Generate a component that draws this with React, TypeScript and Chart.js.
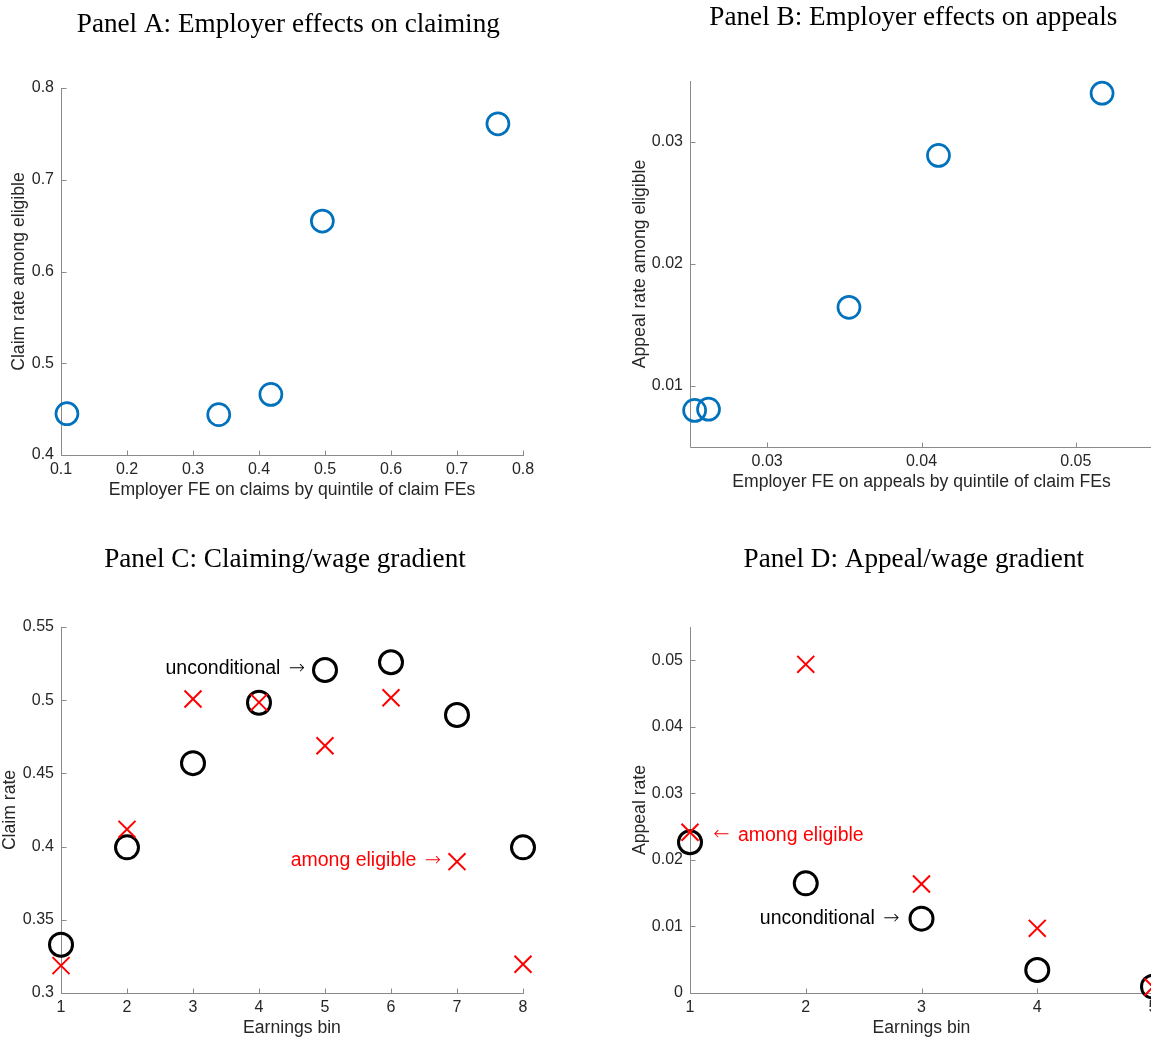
import React, { useEffect, useRef } from "react";
import { Chart, registerables } from "chart.js";

Chart.register(...registerables);

// ---------- Data ----------
// Panel A
const panelAX = [0.109, 0.339, 0.418, 0.496, 0.762];
const panelAY = [0.445, 0.444, 0.466, 0.655, 0.761];
const panelAXTicks = [0.1, 0.2, 0.3, 0.4, 0.5, 0.6, 0.7, 0.8];
const panelAYTicks = [0.4, 0.5, 0.6, 0.7, 0.8];

// Panel B
const panelBX = [0.0253, 0.0262, 0.0353, 0.0411, 0.0517];
const panelBY = [0.0080, 0.0081, 0.01645, 0.0289, 0.0340];
const panelBXTicks = [0.03, 0.04, 0.05];
const panelBYTicks = [0.01, 0.02, 0.03];

// Panel C
const earningsBinsC = [1, 2, 3, 4, 5, 6, 7, 8];
const claimUnconditional = [0.333, 0.3995, 0.457, 0.4983, 0.5206, 0.5259, 0.4899, 0.3995];
const claimAmongEligible = [0.3187, 0.4118, 0.5008, 0.4985, 0.4689, 0.5017, 0.3897, 0.3196];
const panelCXTicks = [1, 2, 3, 4, 5, 6, 7, 8];
const panelCYTicks = [0.3, 0.35, 0.4, 0.45, 0.5, 0.55];

// Panel D
const earningsBinsD = [1, 2, 3, 4, 5];
const appealUnconditional = [0.02265, 0.01648, 0.01117, 0.00346, 0.00095];
const appealAmongEligible = [0.02415, 0.04939, 0.01638, 0.00972, 0.0009];
const panelDXTicks = [1, 2, 3, 4, 5];
const panelDYTicks = [0, 0.01, 0.02, 0.03, 0.04, 0.05];

// ---------- Styles ----------
const SANS = '"Liberation Sans", Arial, Helvetica, sans-serif';
const ARROW_FONT = '"DejaVu Sans", sans-serif';
const SERIF = '"Liberation Serif", "Times New Roman", serif';
const TEXT = "#262626";
const AXIS = "#8a8a8a";
const BLUE = "#0072BD";
const RED = "#FF0000";

const fmt = (v: number) => String(parseFloat(Number(v).toFixed(5)));

const framePlugin = {
  id: "matlabFrame",
  beforeDatasetsDraw(chart: any) {
    const { ctx, chartArea } = chart;
    const xs = chart.scales.x;
    const ys = chart.scales.y;
    const L = Math.round(chartArea.left) + 0.5;
    const B = Math.round(chartArea.bottom) + 0.5;
    ctx.save();
    ctx.strokeStyle = AXIS;
    ctx.lineWidth = 1;
    ctx.beginPath();
    ctx.moveTo(L, Math.round(chartArea.top));
    ctx.lineTo(L, B);
    ctx.lineTo(Math.round(chartArea.right) + 1, B);
    const tl = 5;
    xs.ticks.forEach((t: any) => {
      const px = Math.round(xs.getPixelForValue(t.value)) + 0.5;
      ctx.moveTo(px, B);
      ctx.lineTo(px, B - tl);
    });
    ys.ticks.forEach((t: any) => {
      const py = Math.round(ys.getPixelForValue(t.value)) + 0.5;
      ctx.moveTo(L, py);
      ctx.lineTo(L + tl, py);
    });
    ctx.stroke();
    ctx.restore();
  },
};

// A note is a list of text pieces; arrow glyphs use a font with long arrows.
const drawNote = (ctx: any, n: any, px: number, py: number) => {
  const pieces = n.pieces.map((p: string) => {
    const isArrow = p === "\u2192" || p === "\u2190";
    return { text: p, arrow: isArrow, font: isArrow ? `300 19.5px ${ARROW_FONT}` : `19.5px ${SANS}` };
  });
  const gap = 3;
  let total = 0;
  pieces.forEach((p: any) => {
    ctx.font = p.font;
    p.w = ctx.measureText(p.text).width + (p.arrow ? gap : 0);
    total += p.w;
  });
  let x = n.align === "right" ? px - total : px;
  ctx.fillStyle = n.color;
  ctx.textAlign = "left";
  ctx.textBaseline = "middle";
  pieces.forEach((p: any, i: number) => {
    ctx.font = p.font;
    const shift = p.arrow && i > 0 ? gap : 0;
    ctx.fillText(p.text, x + shift, py);
    x += p.w;
  });
};

const textPlugin = {
  id: "panelText",
  afterDraw(chart: any) {
    const opts = chart.options.plugins.panelText || {};
    const { ctx } = chart;
    ctx.save();
    if (opts.title) {
      ctx.font = `27.2px ${SERIF}`;
      ctx.fillStyle = "#000";
      ctx.textAlign = "center";
      ctx.textBaseline = "alphabetic";
      ctx.fillText(opts.title.text, opts.title.x, opts.title.y);
    }
    (opts.notes || []).forEach((n: any) => {
      const px = chart.scales.x.getPixelForValue(n.x);
      const py = chart.scales.y.getPixelForValue(n.y);
      drawNote(ctx, n, px, py);
    });
    ctx.restore();
  },
};

type Spec = {
  left: number;
  top: number;
  width: number;
  height: number;
  xMin: number;
  xMax: number;
  yMin: number;
  yMax: number;
  xTicks: number[];
  yTicks: number[];
  xTitle: string;
  yTitle: string;
  yAxisWidth: number;
  yTitlePad: number;
  padTop: number;
  padRight: number;
  padBottom: number;
  datasets: any[];
  title: { text: string; x: number; y: number };
  notes: any[];
};

const pts = (xs: number[], ys: number[]) => xs.map((x, i) => ({ x, y: ys[i] }));

const circles = (xs: number[], ys: number[], color: string, r: number, w: number, order: number) => ({
  type: "scatter",
  data: pts(xs, ys),
  pointStyle: "circle",
  pointRadius: r,
  pointHoverRadius: r,
  borderColor: color,
  pointBorderColor: color,
  borderWidth: w,
  pointBorderWidth: w,
  backgroundColor: "rgba(0,0,0,0)",
  pointBackgroundColor: "rgba(0,0,0,0)",
  showLine: false,
  clip: false,
  order,
});

const crosses = (xs: number[], ys: number[], color: string, r: number, w: number, order: number) => ({
  type: "scatter",
  data: pts(xs, ys),
  pointStyle: "crossRot",
  pointRadius: r,
  pointHoverRadius: r,
  borderColor: color,
  pointBorderColor: color,
  borderWidth: w,
  pointBorderWidth: w,
  backgroundColor: color,
  showLine: false,
  clip: false,
  order,
});

function buildConfig(s: Spec): any {
  const tickFont = { family: SANS, size: 16 };
  const titleFont = { family: SANS, size: 17.6 };
  return {
    type: "scatter",
    data: { datasets: s.datasets },
    plugins: [framePlugin, textPlugin],
    options: {
      responsive: false,
      animation: false,
      events: [],
      layout: { padding: { left: 0, top: s.padTop, right: s.padRight, bottom: s.padBottom } },
      plugins: {
        legend: { display: false },
        tooltip: { enabled: false },
        panelText: { title: s.title, notes: s.notes },
      },
      scales: {
        x: {
          type: "linear",
          position: "bottom",
          min: s.xMin,
          max: s.xMax,
          grid: { display: false, drawTicks: false },
          border: { display: false },
          ticks: {
            padding: 5,
            font: tickFont,
            color: TEXT,
            autoSkip: false,
            maxRotation: 0,
            minRotation: 0,
            includeBounds: false,
            callback: (v: any) => fmt(v),
          },
          title: { display: true, text: s.xTitle, font: titleFont, color: TEXT, padding: { top: 0, bottom: 0 } },
          afterBuildTicks: (sc: any) => {
            sc.ticks = s.xTicks.map((v) => ({ value: v }));
          },
          afterFit: (sc: any) => {
            sc.height = 46;
          },
        },
        y: {
          type: "linear",
          position: "left",
          min: s.yMin,
          max: s.yMax,
          grid: { display: false, drawTicks: false },
          border: { display: false },
          ticks: {
            padding: 7,
            font: tickFont,
            color: TEXT,
            autoSkip: false,
            includeBounds: false,
            callback: (v: any) => fmt(v),
          },
          title: { display: true, text: s.yTitle, font: titleFont, color: TEXT, padding: { top: s.yTitlePad, bottom: 0 } },
          afterBuildTicks: (sc: any) => {
            sc.ticks = s.yTicks.map((v) => ({ value: v }));
          },
          afterFit: (sc: any) => {
            sc.width = s.yAxisWidth;
          },
        },
      },
    },
  };
}

function Panel({ spec }: { spec: Spec }) {
  const ref = useRef<HTMLCanvasElement | null>(null);
  useEffect(() => {
    if (!ref.current) return;
    const chart = new Chart(ref.current, buildConfig(spec));
    return () => chart.destroy();
  }, []);
  return (
    <canvas
      ref={ref}
      width={spec.width}
      height={spec.height}
      style={{
        position: "absolute",
        left: spec.left,
        top: spec.top,
        width: spec.width,
        height: spec.height,
      }}
    />
  );
}

const specA: Spec = {
  left: 0,
  top: 0,
  width: 570,
  height: 520,
  xMin: 0.1,
  xMax: 0.8,
  yMin: 0.4,
  yMax: 0.8,
  xTicks: panelAXTicks,
  yTicks: panelAYTicks,
  xTitle: "Employer FE on claims by quintile of claim FEs",
  yTitle: "Claim rate among eligible",
  yAxisWidth: 61,
  yTitlePad: 8.4,
  padTop: 88,
  padRight: 47,
  padBottom: 19,
  datasets: [circles(panelAX, panelAY, BLUE, 11, 2.7, 0)],
  title: { text: "Panel A: Employer effects on claiming", x: 288.3, y: 31.7 },
  notes: [],
};

const specB: Spec = {
  left: 600,
  top: 0,
  width: 580,
  height: 520,
  xMin: 0.025,
  xMax: 0.055,
  yMin: 0.005,
  yMax: 0.035,
  xTicks: panelBXTicks,
  yTicks: panelBYTicks,
  xTitle: "Employer FE on appeals by quintile of claim FEs",
  yTitle: "Appeal rate among eligible",
  yAxisWidth: 90,
  yTitlePad: 29.2,
  padTop: 81,
  padRight: 27,
  padBottom: 27,
  datasets: [circles(panelBX, panelBY, BLUE, 11, 2.7, 0)],
  title: { text: "Panel B: Employer effects on appeals", x: 313.3, y: 25 },
  notes: [],
};

const specC: Spec = {
  left: 0,
  top: 520,
  width: 570,
  height: 520,
  xMin: 1,
  xMax: 8,
  yMin: 0.3,
  yMax: 0.55,
  xTicks: panelCXTicks,
  yTicks: panelCYTicks,
  xTitle: "Earnings bin",
  yTitle: "Claim rate",
  yAxisWidth: 61,
  yTitlePad: 0,
  padTop: 107,
  padRight: 47,
  padBottom: 1,
  datasets: [
    crosses(earningsBinsC, claimAmongEligible, RED, 12, 2, 0),
    circles(earningsBinsC, claimUnconditional, "#000", 11.5, 3, 1),
  ],
  title: { text: "Panel C: Claiming/wage gradient", x: 285, y: 47.3 },
  notes: [
    { pieces: ["unconditional ", "\u2192"], x: 4.7, y: 0.5213, align: "right", color: "#000" },
    { pieces: ["among eligible ", "\u2192"], x: 6.76, y: 0.3905, align: "right", color: RED },
  ],
};

const specD: Spec = {
  left: 600,
  top: 520,
  width: 580,
  height: 520,
  xMin: 1,
  xMax: 5,
  yMin: 0,
  yMax: 0.055,
  xTicks: panelDXTicks,
  yTicks: panelDYTicks,
  xTitle: "Earnings bin",
  yTitle: "Appeal rate",
  yAxisWidth: 90,
  yTitlePad: 29.2,
  padTop: 107,
  padRight: 27,
  padBottom: 1,
  datasets: [
    crosses(earningsBinsD, appealAmongEligible, RED, 12, 2, 0),
    circles(earningsBinsD, appealUnconditional, "#000", 11.5, 3, 1),
  ],
  title: { text: "Panel D: Appeal/wage gradient", x: 313.8, y: 47 },
  notes: [
    { pieces: ["\u2190", " among eligible"], x: 1.2, y: 0.0237, align: "left", color: RED },
    { pieces: ["unconditional ", "\u2192"], x: 2.81, y: 0.0112, align: "right", color: "#000" },
  ],
};

export default function App() {
  return (
    <div
      style={{
        position: "fixed",
        left: 0,
        top: 0,
        width: 1151,
        height: 1040,
        overflow: "hidden",
        background: "#fff",
      }}
    >
      <Panel spec={specA} />
      <Panel spec={specB} />
      <Panel spec={specC} />
      <Panel spec={specD} />
    </div>
  );
}
